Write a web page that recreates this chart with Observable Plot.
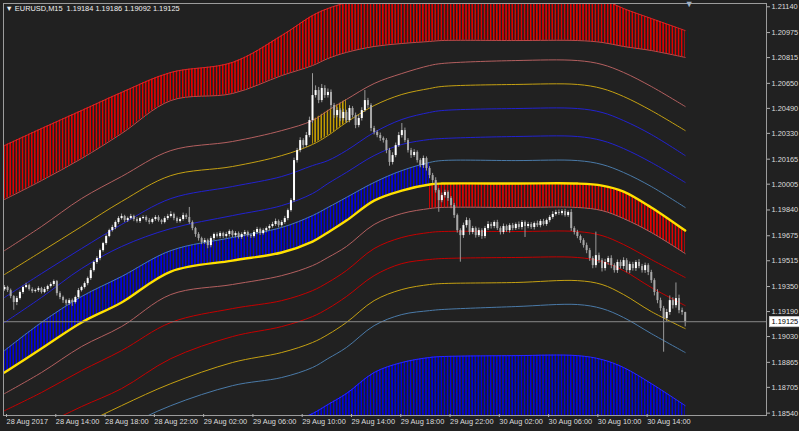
<!DOCTYPE html>
<html><head><meta charset="utf-8">
<script src="https://cdn.jsdelivr.net/npm/d3@7"></script>
<script src="https://cdn.jsdelivr.net/npm/@observablehq/plot@0.6"></script>
<style>
html,body{margin:0;padding:0;background:#212121;}
#chart{width:799px;height:431px;overflow:hidden;}
</style></head><body><div id="chart"></div>
<script>
// ---------- data ----------
const symbol = "EURUSD,M15";
const firstOpen = 1.19330;
const close = [
1.19344,1.19324,1.19286,1.19248,1.19273,1.19312,1.19344,1.19356,1.19331,1.19318,
1.19324,1.19337,1.19312,1.19331,1.19350,1.19363,1.19382,1.19305,1.19280,1.19260,
1.19241,1.19260,1.19248,1.19280,1.19324,1.19344,1.19369,1.19401,1.19452,1.19504,
1.19529,1.19580,1.19625,1.19670,1.19708,1.19728,1.19760,1.19785,1.19798,1.19772,
1.19785,1.19798,1.19779,1.19766,1.19785,1.19792,1.19772,1.19760,1.19779,1.19792,
1.19772,1.19760,1.19785,1.19798,1.19811,1.19785,1.19766,1.19779,1.19804,1.19792,
1.19760,1.19721,1.19683,1.19657,1.19632,1.19644,1.19612,1.19657,1.19683,1.19670,
1.19689,1.19670,1.19683,1.19702,1.19676,1.19689,1.19664,1.19683,1.19696,1.19676,
1.19670,1.19696,1.19715,1.19689,1.19708,1.19721,1.19734,1.19747,1.19766,1.19740,
1.19760,1.19785,1.19836,1.19900,1.20156,1.20220,1.20284,1.20252,1.20316,1.20412,
1.20572,1.20604,1.20540,1.20617,1.20572,1.20592,1.20508,1.20444,1.20476,1.20425,
1.20464,1.20412,1.20489,1.20444,1.20380,1.20425,1.20476,1.20540,1.20508,1.20361,
1.20336,1.20316,1.20297,1.20284,1.20220,1.20144,1.20188,1.20252,1.20316,1.20348,
1.20284,1.20220,1.20188,1.20208,1.20156,1.20124,1.20169,1.20105,1.20060,1.20028,
1.19964,1.19900,1.19932,1.19952,1.19913,1.19868,1.19804,1.19708,1.19676,1.19740,
1.19772,1.19696,1.19721,1.19676,1.19708,1.19670,1.19721,1.19747,1.19734,1.19760,
1.19721,1.19696,1.19734,1.19708,1.19740,1.19721,1.19747,1.19728,1.19760,1.19734,
1.19747,1.19728,1.19753,1.19740,1.19766,1.19747,1.19772,1.19792,1.19811,1.19824,
1.19817,1.19830,1.19804,1.19824,1.19721,1.19696,1.19670,1.19644,1.19612,1.19580,
1.19529,1.19484,1.19548,1.19516,1.19465,1.19504,1.19529,1.19484,1.19452,1.19504,
1.19478,1.19516,1.19452,1.19491,1.19465,1.19504,1.19478,1.19452,1.19484,1.19440,
1.19388,1.19312,1.19260,1.19209,1.19145,1.19184,1.19260,1.19228,1.19273,1.19196,1.19184,1.19125
];
// wick lengths in points (0.00001) above / below the body
const wickUp = [
12,8,10,6,14,10,8,15,9,11, 10,12,8,14,9,11,10,7,12,9, 8,12,10,9,14,8,11,10,13,9,
12,10,8,11,9,14,10,12,16,8, 10,14,9,12,8,11,10,13,9,12, 11,8,12,14,18,9,10,12,16,11,
64,10,8,12,9,14,10,12,9,11, 12,9,14,10,8,12,10,11,13,9, 10,12,14,9,11,10,12,14,16,10,
12,14,10,12,16,14,18,12,20,22, 140,30,20,26,18,22,16,14,18,12, 20,14,18,12,16,20,18,64,14,12,
14,12,16,10,12,14,18,16,20,45, 16,12,14,18,10,12,16,10,12,14, 18,12,16,14,10,12,14,10,12,16,
18,12,14,10,16,12,14,18,12,10, 14,12,16,10,12,14,10,16,12,10, 14,12,10,16,12,14,10,12,18,14,
16,12,14,10,18,12,14,10,12,16, 14,12,150,16,12,20,14,18,12,16, 14,18,12,16,14,12,18,14,16,12,
14,12,18,16,14,20,30,18,100,22,16,2
];
const wickDown = [
10,12,14,50,20,10,12,8,10,12, 9,12,10,8,14,10,12,16,14,18, 14,12,25,10,12,9,10,14,12,10,
12,14,10,12,8,10,14,12,10,12, 12,9,14,10,12,8,11,14,10,12, 10,14,9,12,10,14,12,10,11,13,
12,14,18,16,14,12,20,14,12,10, 14,12,10,16,12,14,10,12,14,10, 12,10,14,12,10,14,12,10,12,14,
10,12,14,10,12,16,14,18,12,14, 18,16,20,14,18,16,22,18,14,20, 16,18,14,16,20,14,16,12,18,20,
16,14,18,16,20,24,16,14,12,16, 14,16,18,12,16,14,18,16,20,18, 16,75,14,16,18,20,18,16,170,18,
16,18,14,16,12,18,14,12,16,14, 12,16,14,12,16,14,12,14,16,70, 14,12,16,12,14,10,12,14,12,10,
12,14,10,12,18,16,14,18,16,20, 18,20,16,18,22,16,18,20,16,18, 16,18,14,20,16,18,14,16,18,20,
18,22,20,18,215,20,18,22,16,20,18,33
];

// indicator bands, sampled at these bars
const bandBars = [0,12,25,38,54,74,90,100,105,111,120,129,138,142,166,186,194,201,210,221];
const redBandTop    = [1.20252,1.20361,1.20476,1.20592,1.20720,1.20784,1.20956,1.21084,1.21129,1.21168,1.21232,1.21257,1.21270,1.21270,1.21270,1.21270,1.21193,1.21129,1.21065,1.20988];
const redBandBottom = [1.19907,1.20028,1.20169,1.20329,1.20540,1.20585,1.20700,1.20764,1.20809,1.20848,1.20886,1.20905,1.20918,1.20924,1.20924,1.20924,1.20912,1.20886,1.20860,1.20816];
const salmonUp = [1.19580,1.19734,1.19913,1.20054,1.20220,1.20278,1.20348,1.20412,1.20476,1.20547,1.20649,1.20713,1.20764,1.20777,1.20796,1.20796,1.20771,1.20720,1.20630,1.20502];
const goldUp   = [1.19427,1.19574,1.19734,1.19894,1.20060,1.20118,1.20188,1.20259,1.20316,1.20400,1.20508,1.20579,1.20617,1.20630,1.20643,1.20643,1.20617,1.20566,1.20476,1.20348];
const blueUp1  = [1.19280,1.19433,1.19593,1.19747,1.19913,1.19990,1.20054,1.20124,1.20156,1.20220,1.20336,1.20419,1.20464,1.20476,1.20489,1.20489,1.20464,1.20412,1.20323,1.20188];
const blueUp2  = [1.19120,1.19280,1.19465,1.19606,1.19721,1.19804,1.19868,1.19945,1.20009,1.20080,1.20188,1.20259,1.20291,1.20297,1.20310,1.20310,1.20284,1.20233,1.20144,1.20016];
const steelUp  = [1.18940,1.19120,1.19286,1.19414,1.19580,1.19664,1.19728,1.19804,1.19856,1.19920,1.20016,1.20092,1.20144,1.20156,1.20156,1.20156,1.20131,1.20080,1.19990,1.19856];
const center   = [1.18800,1.18953,1.19120,1.19248,1.19446,1.19516,1.19568,1.19638,1.19696,1.19772,1.19900,1.19964,1.20003,1.20009,1.20009,1.20009,1.19996,1.19958,1.19856,1.19708];
const salmonDn = [1.18665,1.18800,1.18966,1.19094,1.19299,1.19363,1.19420,1.19484,1.19536,1.19606,1.19747,1.19817,1.19849,1.19856,1.19856,1.19856,1.19836,1.19785,1.19696,1.19561];
const redDn1   = [1.18556,1.18672,1.18812,1.18940,1.19120,1.19209,1.19260,1.19324,1.19376,1.19452,1.19593,1.19664,1.19696,1.19702,1.19702,1.19702,1.19676,1.19619,1.19523,1.19408];
const redDn2   = [1.18364,1.18460,1.18582,1.18697,1.18889,1.19030,1.19094,1.19158,1.19209,1.19286,1.19420,1.19497,1.19523,1.19529,1.19536,1.19536,1.19510,1.19452,1.19344,1.19228];
const goldDn   = [1.18172,1.18300,1.18460,1.18588,1.18729,1.18864,1.18928,1.18992,1.19043,1.19120,1.19260,1.19331,1.19363,1.19369,1.19376,1.19388,1.19363,1.19299,1.19190,1.19081];
const steelDn  = [1.18012,1.18140,1.18300,1.18441,1.18588,1.18716,1.18768,1.18832,1.18889,1.18960,1.19100,1.19171,1.19196,1.19203,1.19222,1.19235,1.19209,1.19152,1.19049,1.18928];
const blueBandTop    = [1.17532,1.17660,1.17820,1.17948,1.18108,1.18364,1.18460,1.18537,1.18595,1.18665,1.18800,1.18864,1.18896,1.18902,1.18908,1.18908,1.18883,1.18832,1.18729,1.18588];
const blueBandBottom = [1.17082,1.17210,1.17370,1.17498,1.17658,1.17914,1.18010,1.18087,1.18145,1.18215,1.18350,1.18414,1.18446,1.18452,1.18458,1.18458,1.18433,1.18382,1.18279,1.18138];

const priceTicks = [1.21140,1.20975,1.20815,1.20650,1.20490,1.20330,1.20165,1.20005,1.19840,1.19675,1.19515,1.19350,1.19190,1.19030,1.18865,1.18705,1.18540];
const timeTickBars = [0,16,32,48,64,80,96,112,128,144,160,176,192,208];
const timeTickLabels = ["28 Aug 2017","28 Aug 14:00","28 Aug 18:00","28 Aug 22:00","29 Aug 02:00","29 Aug 06:00","29 Aug 10:00","29 Aug 14:00","29 Aug 18:00","29 Aug 22:00","30 Aug 02:00","30 Aug 06:00","30 Aug 10:00","30 Aug 14:00"];
const shiftMarkerBar = [222.3];

// ---------- tables ----------
const candles = close.map((c, i) => {
  const o = i === 0 ? firstOpen : close[i - 1];
  return {bar: i, open: o, close: c,
          high: Math.max(o, c) + wickUp[i] / 1e5,
          low: Math.min(o, c) - wickDown[i] / 1e5,
          up: c >= o};
});
const bands = bandBars.map((b, i) => ({
  bar: b, rt: redBandTop[i], rb: redBandBottom[i], p1: salmonUp[i], g1: goldUp[i],
  b1: blueUp1[i], b2: blueUp2[i], s1: steelUp[i], c: center[i], p2: salmonDn[i],
  r1: redDn1[i], r2: redDn2[i], g2: goldDn[i], s2: steelDn[i],
  bt: blueBandTop[i], bb: blueBandBottom[i]
}));
const last = candles[candles.length - 1];
const lastText = last.close.toFixed(5);
const header = `\u25BC ${symbol}  ${last.open.toFixed(5)} ${last.high.toFixed(5)} ${last.low.toFixed(5)} ${lastText}`;
const tickLabel = new Map(timeTickBars.map((b, i) => [b, timeTickLabels[i]]));

const curve = "catmull-rom";
const L = (key, stroke, w = 1) => Plot.line(bands, {x: "bar", y: key, stroke, strokeWidth: w, curve, clip: true});

const svg = Plot.plot({
  width: 799, height: 431,
  marginLeft: 3, marginRight: 33, marginTop: 3, marginBottom: 16,
  style: {background: "#212121", color: "#d8d8d8", fontFamily: "Liberation Sans, Arial, sans-serif", fontSize: "7.4px"},
  x: {domain: [-0.33, 247.4], axis: null, label: null},
  y: {domain: [1.18525, 1.21161], axis: null, label: null},
  marks: [
    // hatched bands
    Plot.areaY(bands, {x: "bar", y1: "rb", y2: "rt", fill: "url(#hRed)", curve, clip: true}),
    Plot.areaY(bands, {x: "bar", y1: "bb", y2: "bt", fill: "url(#hBlue)", curve, clip: true}),
    Plot.areaY(bands, {filter: d => d.bar <= 138, x: "bar", y1: "c", y2: "s1", fill: "url(#hBlue)", curve, clip: true}),
    Plot.areaY(bands, {filter: d => d.bar >= 138, x: "bar", y1: "p2", y2: "c", fill: "url(#hRed)", curve, clip: true}),
    Plot.areaY(bands, {filter: d => d.bar >= 100 && d.bar <= 111, x: "bar", y1: "g1", y2: "p1", fill: "url(#hGold)", curve, clip: true}),
    // band lines
    L("rt", "#d42a2a"), L("rb", "#c04848"),
    L("p1", "#b35f5f"), L("g1", "#c4a012"), L("b1", "#2222d0"), L("b2", "#2222d0"),
    L("s1", "#4a7aa8"),
    L("p2", "#b35f5f"), L("r1", "#c40000"), L("r2", "#c40000"), L("g2", "#c4a012"),
    L("s2", "#4a7aa8"), L("bt", "#2a2aff"),
    L("c", "#ffe000", 2.4),
    // candles
    Plot.ruleX(candles, {x: "bar", y1: "low", y2: "high", stroke: "#9a9a9a", strokeWidth: 1, clip: true}),
    Plot.ruleX(candles, {x: "bar", y1: "open", y2: "close", stroke: d => d.up ? "#ffffff" : "#a8a8a8", strokeWidth: 2, clip: true}),
    // current price line
    Plot.ruleY([last.close], {stroke: "#8a8a8a", strokeWidth: 1}),
    Plot.frame({stroke: "#9c9c9c"}),
    Plot.axisY(priceTicks, {anchor: "right", label: null, tickSize: 3, tickPadding: 2, tickFormat: d3.format(".5f"), stroke: "#b0b0b0", fill: "#dcdcdc"}),
    Plot.axisX(timeTickBars, {anchor: "bottom", label: null, tickSize: 3, tickPadding: 1, tickFormat: d => tickLabel.get(d), textAnchor: "start", dx: 2, dy: -1, stroke: "#b0b0b0", fill: "#dcdcdc"}),
    Plot.text([last.close], {y: d => d, frameAnchor: "right", dx: 5, textAnchor: "start", text: d => d.toFixed(5), fill: "#000000"}),
    Plot.text([header], {frameAnchor: "top-left", dx: 2, dy: 2, lineAnchor: "top", textAnchor: "start", fill: "#f0f0f0"}),
    Plot.text(shiftMarkerBar, {x: d => d, frameAnchor: "top", lineAnchor: "top", dy: -3, text: () => "\u25BC", fill: "#9fb0c4", fontSize: 9})
  ]
});

// hatch patterns aligned to bars
const xs = svg.scale("x");
const step = xs.apply(1) - xs.apply(0);
const x0 = xs.apply(0);
const defs = d3.select(svg).insert("defs", ":first-child");
function pattern(id, color, w) {
  const p = defs.append("pattern").attr("id", id).attr("patternUnits", "userSpaceOnUse")
    .attr("width", step).attr("height", 8).attr("x", x0 - w / 2).attr("y", 0);
  p.append("rect").attr("x", 0).attr("y", 0).attr("width", w).attr("height", 8).attr("fill", color);
}
pattern("hRed", "#e60000", 1.5);
pattern("hBlue", "#0000e6", 1.5);
pattern("hGold", "#c8a000", 1.5);

document.getElementById("chart").appendChild(svg);

// white box behind the current price tag
const tagText = Array.from(svg.querySelectorAll("text")).find(t => t.textContent === lastText);
if (tagText) {
  const bb = tagText.getBBox();
  const g = tagText.parentNode;
  const rect = document.createElementNS("http://www.w3.org/2000/svg", "rect");
  rect.setAttribute("x", bb.x - 2); rect.setAttribute("y", bb.y - 0.5);
  rect.setAttribute("width", 31); rect.setAttribute("height", bb.height + 1);
  rect.setAttribute("fill", "#ffffff"); rect.setAttribute("stroke", "#c8c8c8");
  rect.setAttribute("transform", tagText.getAttribute("transform") || "");
  tagText.parentNode.insertBefore(rect, tagText);
}
</script></body></html>
